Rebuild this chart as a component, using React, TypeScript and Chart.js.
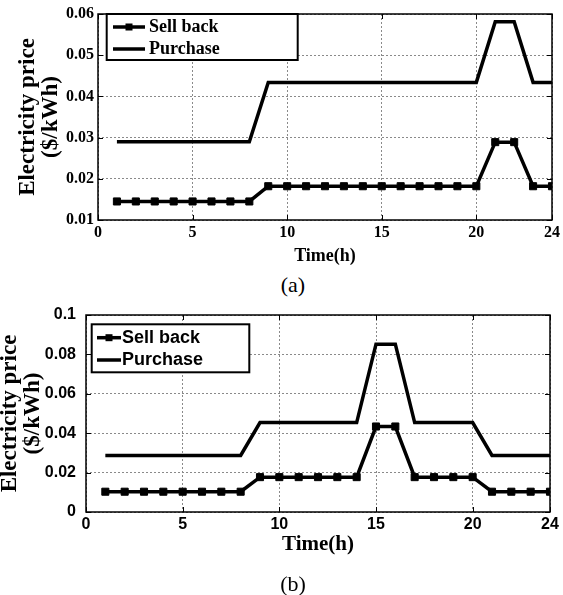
import React, { useEffect, useRef } from 'react';
import { Chart, registerables } from 'chart.js';

Chart.register(...registerables);

// ---- Data ----
const hours = [1, 2, 3, 4, 5, 6, 7, 8, 9, 10, 11, 12, 13, 14, 15, 16, 17, 18, 19, 20, 21, 22, 23, 24];

const sellBackA = [0.0145, 0.0145, 0.0145, 0.0145, 0.0145, 0.0145, 0.0145, 0.0145,
  0.0182, 0.0182, 0.0182, 0.0182, 0.0182, 0.0182, 0.0182, 0.0182, 0.0182, 0.0182, 0.0182, 0.0182,
  0.0289, 0.0289, 0.0182, 0.0182];
const purchaseA = [0.029, 0.029, 0.029, 0.029, 0.029, 0.029, 0.029, 0.029,
  0.0434, 0.0434, 0.0434, 0.0434, 0.0434, 0.0434, 0.0434, 0.0434, 0.0434, 0.0434, 0.0434, 0.0434,
  0.0581, 0.0581, 0.0434, 0.0434];

const sellBackB = [0.0103, 0.0103, 0.0103, 0.0103, 0.0103, 0.0103, 0.0103, 0.0103,
  0.0177, 0.0177, 0.0177, 0.0177, 0.0177, 0.0177,
  0.0434, 0.0434,
  0.0177, 0.0177, 0.0177, 0.0177,
  0.0103, 0.0103, 0.0103, 0.0103];
const purchaseB = [0.0287, 0.0287, 0.0287, 0.0287, 0.0287, 0.0287, 0.0287, 0.0287,
  0.0454, 0.0454, 0.0454, 0.0454, 0.0454, 0.0454,
  0.0852, 0.0852,
  0.0454, 0.0454, 0.0454, 0.0454,
  0.0287, 0.0287, 0.0287, 0.0287];

const seriesLabels = ['Sell back', 'Purchase'];

const xTickValues = [0, 5, 10, 15, 20, 24];
const xTickLabels = ['0', '5', '10', '15', '20', '24'];

const yTickValuesA = [0.01, 0.02, 0.03, 0.04, 0.05, 0.06];
const yTickLabelsA = ['0.01', '0.02', '0.03', '0.04', '0.05', '0.06'];

const yTickValuesB = [0, 0.02, 0.04, 0.06, 0.08, 0.1];
const yTickLabelsB = ['0', '0.02', '0.04', '0.06', '0.08', '0.1'];

const xTitle = 'Time(h)';
const yTitle = ['Electricity price', '($/kWh)'];
const captions = ['(a)', '(b)'];

const SERIF = '"Liberation Serif", "Times New Roman", serif';
const SANS = '"Liberation Sans", Arial, sans-serif';

// ---- Plugin: MATLAB-like frame, inward ticks, boxed legend ----
const matlabPlugin = {
  id: 'matlabFrame',
  afterDraw(chart: any, _args: any, opts: any) {
    const { ctx, chartArea: a, scales } = chart;
    ctx.save();
    ctx.setLineDash([]);
    ctx.strokeStyle = '#000';
    ctx.lineWidth = 1;
    ctx.beginPath();
    scales.x.ticks.forEach((t: any) => {
      const px = Math.round(scales.x.getPixelForValue(t.value)) + 0.5;
      ctx.moveTo(px, a.bottom); ctx.lineTo(px, a.bottom - 5);
      ctx.moveTo(px, a.top); ctx.lineTo(px, a.top + 5);
    });
    scales.y.ticks.forEach((t: any) => {
      const py = Math.round(scales.y.getPixelForValue(t.value)) + 0.5;
      ctx.moveTo(a.left, py); ctx.lineTo(a.left + 5, py);
      ctx.moveTo(a.right, py); ctx.lineTo(a.right - 5, py);
    });
    ctx.stroke();
    ctx.lineWidth = 1.5;
    ctx.strokeRect(a.left, a.top, a.right - a.left, a.bottom - a.top);

    // legend
    const L = opts;
    const bx = a.left + L.x;
    const by = a.top + L.y;
    ctx.fillStyle = '#fff';
    ctx.fillRect(bx, by, L.w, L.h);
    ctx.lineWidth = 2;
    ctx.strokeStyle = '#000';
    ctx.strokeRect(bx, by, L.w, L.h);
    chart.data.datasets.forEach((ds: any, i: number) => {
      const cy = by + L.firstRow + i * L.rowH;
      ctx.strokeStyle = ds.borderColor;
      ctx.lineWidth = L.lineWidth;
      ctx.beginPath();
      ctx.moveTo(bx + L.sampleX, cy);
      ctx.lineTo(bx + L.sampleX + L.sampleW, cy);
      ctx.stroke();
      if (ds.pointRadius > 0) {
        ctx.fillStyle = ds.pointBackgroundColor;
        const m = L.marker;
        ctx.fillRect(bx + L.sampleX + L.sampleW / 2 - m / 2, cy - m / 2, m, m);
      }
      ctx.fillStyle = '#000';
      ctx.font = L.font;
      ctx.textAlign = 'left';
      ctx.textBaseline = 'middle';
      ctx.fillText(ds.label, bx + L.textX, cy);
    });
    ctx.restore();
  },
};

type Panel = {
  top: number;
  height: number;
  sell: number[];
  purchase: number[];
  yMin: number;
  yMax: number;
  yTicks: number[];
  yLabels: string[];
  padTop: number;
  padRight: number;
  padBottom: number;
  yAxisW: number;
  xAxisH: number;
  tickFamily: string;
  yTickPad: number;
  xTitleSize: number;
  yTitlePad: number;
  legend: any;
};

function makeConfig(p: Panel): any {
  const toPts = (vals: number[]) => hours.map((h, i) => ({ x: h, y: vals[i] }));
  const tickFont = { family: p.tickFamily, size: 16, weight: 'bold' as const };
  return {
    type: 'line',
    data: {
      datasets: [
        {
          label: seriesLabels[0],
          data: toPts(p.sell),
          borderColor: '#000',
          backgroundColor: '#000',
          borderWidth: 3.5,
          pointStyle: 'rect',
          pointRadius: 5,
          pointBorderWidth: 1,
          pointBackgroundColor: '#000',
          pointBorderColor: '#000',
          tension: 0,
          fill: false,
        },
        {
          label: seriesLabels[1],
          data: toPts(p.purchase),
          borderColor: '#000',
          backgroundColor: '#000',
          borderWidth: 3.5,
          pointRadius: 0,
          pointBackgroundColor: '#000',
          tension: 0,
          fill: false,
        },
      ],
    },
    options: {
      animation: false,
      responsive: false,
      devicePixelRatio: 1,
      layout: { padding: { left: 0, top: p.padTop, right: p.padRight, bottom: p.padBottom } },
      plugins: {
        legend: { display: false },
        tooltip: { enabled: false },
        matlabFrame: p.legend,
      },
      scales: {
        x: {
          type: 'linear',
          min: 0,
          max: 24,
          afterBuildTicks: (s: any) => { s.ticks = xTickValues.map((v) => ({ value: v })); },
          afterFit: (s: any) => { s.height = p.xAxisH; },
          grid: { color: '#8a8a8a', lineWidth: 1, drawTicks: false },
          border: { display: false, dash: [2, 2] },
          ticks: {
            padding: 3,
            color: '#000',
            font: tickFont,
            maxRotation: 0,
            callback: (v: number) => xTickLabels[xTickValues.indexOf(v)] ?? '',
          },
          title: {
            display: true,
            text: xTitle,
            color: '#000',
            font: { family: SERIF, size: p.xTitleSize, weight: 'bold' },
            padding: { top: 0, bottom: 0 },
          },
        },
        y: {
          type: 'linear',
          min: p.yMin,
          max: p.yMax,
          afterBuildTicks: (s: any) => { s.ticks = p.yTicks.map((v) => ({ value: v })); },
          afterFit: (s: any) => { s.width = p.yAxisW; },
          grid: { color: '#8a8a8a', lineWidth: 1, drawTicks: false },
          border: { display: false, dash: [2, 2] },
          ticks: {
            padding: p.yTickPad,
            color: '#000',
            font: tickFont,
            callback: (v: number, i: number) => p.yLabels[i] ?? '',
          },
          title: {
            display: true,
            text: yTitle,
            color: '#000',
            font: { family: SERIF, size: 23, weight: 'bold', lineHeight: 1 },
            padding: { top: p.yTitlePad, bottom: 0 },
          },
        },
      },
    },
    plugins: [matlabPlugin],
  };
}

const panelA: Panel = {
  top: 0,
  height: 270,
  sell: sellBackA,
  purchase: purchaseA,
  yMin: 0.01,
  yMax: 0.06,
  yTicks: yTickValuesA,
  yLabels: yTickLabelsA,
  padTop: 14,
  padRight: 10,
  padBottom: 3.2,
  yAxisW: 98,
  xAxisH: 46.8,
  tickFamily: SERIF,
  yTickPad: 4,
  xTitleSize: 18,
  yTitlePad: 16.5,
  legend: {
    x: 8.7, y: 0, w: 191, h: 46, firstRow: 13, rowH: 22,
    sampleX: 6.3, sampleW: 32, textX: 42.3, marker: 7, lineWidth: 3.5,
    font: `bold 18px ${SERIF}`,
  },
};

const panelB: Panel = {
  top: 295,
  height: 300,
  sell: sellBackB,
  purchase: purchaseB,
  yMin: 0,
  yMax: 0.1,
  yTicks: yTickValuesB,
  yLabels: yTickLabelsB,
  padTop: 20,
  padRight: 13,
  padBottom: 37.4,
  yAxisW: 86,
  xAxisH: 45.6,
  tickFamily: SANS,
  yTickPad: 10,
  xTitleSize: 21,
  yTitlePad: -1.5,
  legend: {
    x: 5.7, y: 9.3, w: 157.6, h: 48, firstRow: 13.4, rowH: 22.3,
    sampleX: 5.3, sampleW: 24, textX: 30.3, marker: 7, lineWidth: 3.5,
    font: `bold 18px ${SANS}`,
  },
};

function PriceChart({ panel }: { panel: Panel }) {
  const ref = useRef<HTMLCanvasElement>(null);
  useEffect(() => {
    const chart = new Chart(ref.current as HTMLCanvasElement, makeConfig(panel));
    return () => chart.destroy();
  }, [panel]);
  return (
    <canvas
      ref={ref}
      width={563}
      height={panel.height}
      style={{ position: 'absolute', left: 0, top: panel.top, width: 563, height: panel.height }}
    />
  );
}

const captionStyle = (top: number): React.CSSProperties => ({
  position: 'absolute',
  left: 263,
  top,
  width: 60,
  textAlign: 'center',
  fontFamily: SERIF,
  fontSize: 22,
  lineHeight: '26px',
  color: '#000',
});

export default function App() {
  return (
    <div style={{ position: 'fixed', left: 0, top: 0, width: 563, height: 595, background: '#fff', overflow: 'hidden' }}>
      <PriceChart panel={panelA} />
      <div style={captionStyle(272)}>{captions[0]}</div>
      <PriceChart panel={panelB} />
      <div style={captionStyle(571)}>{captions[1]}</div>
    </div>
  );
}
